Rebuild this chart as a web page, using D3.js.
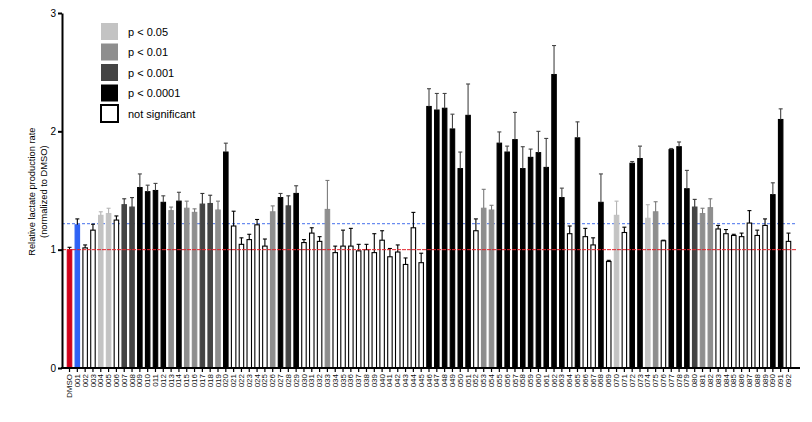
<!DOCTYPE html>
<html>
<head>
<meta charset="utf-8">
<style>
  body { margin: 0; background: #fff; }
  svg { font-family: Arial, "Liberation Sans", sans-serif; }
</style>
</head>
<body>
<svg id="chart"></svg>
<script src="https://d3js.org/d3.v7.min.js"></script>
<script>

  // bar labels: DMSO then numbered compounds
  var labels = ["DMSO"];
  for (var i = 1; i <= 92; i++) labels.push("0" + (i < 10 ? "0" + i : i));

  var values = [1.00, 1.21, 1.015, 1.165, 1.29, 1.305, 1.25, 1.38, 1.36, 1.525,
    1.49, 1.50, 1.40, 1.33, 1.41, 1.35, 1.315, 1.385, 1.39, 1.335,
    1.825, 1.20, 1.045, 1.085, 1.21, 1.03, 1.32, 1.44, 1.37, 1.475,
    1.06, 1.14, 1.07, 1.34, 0.975, 1.03, 1.03, 0.99, 1.00, 0.975,
    1.08, 0.94, 0.98, 0.875, 1.185, 0.89, 2.21, 2.18, 2.195, 2.02,
    1.685, 2.135, 1.16, 1.35, 1.335, 1.90, 1.825, 1.93, 1.685, 1.78,
    1.82, 1.695, 2.48, 1.44, 1.135, 1.945, 1.11, 1.04, 1.40, 0.90,
    1.29, 1.145, 1.73, 1.77, 1.265, 1.32, 1.075, 1.845, 1.87, 1.515,
    1.36, 1.305, 1.355, 1.175, 1.135, 1.12, 1.11, 1.225, 1.12, 1.205,
    1.465, 2.10, 1.07];

  var errors = [0.02, 0.05, 0.025, 0.05, 0.03, 0.045, 0.035, 0.05, 0.08, 0.115,
    0.055, 0.06, 0.055, 0.03, 0.075, 0.06, 0.03, 0.09, 0.07, 0.075,
    0.075, 0.125, 0.055, 0.045, 0.045, 0.06, 0.05, 0.035, 0.085, 0.065,
    0.025, 0.045, 0.04, 0.245, 0.055, 0.135, 0.15, 0.055, 0.045, 0.16,
    0.08, 0.07, 0.06, 0.055, 0.13, 0.08, 0.15, 0.14, 0.125, 0.125,
    0.14, 0.265, 0.10, 0.16, 0.04, 0.095, 0.05, 0.23, 0.185, 0.07,
    0.18, 0.245, 0.245, 0.08, 0.065, 0.135, 0.07, 0.06, 0.24, 0.01,
    0.12, 0.045, 0.015, 0.105, 0.115, 0.085, 0.005, 0.01, 0.04, 0.155,
    0.065, 0.045, 0.075, 0.03, 0.035, 0.01, 0.03, 0.105, 0.045, 0.055,
    0.10, 0.09, 0.07];

  // significance group per bar: c = control DMSO, b = blue control,
  // ns, p05, p01, p001, p0001
  var groups = ["c", "b", "ns", "ns", "p05", "p05", "ns", "p001", "p001", "p0001",
    "p0001", "p0001", "p0001", "p01", "p0001", "p01", "p01", "p001", "p001", "p01",
    "p0001", "ns", "ns", "ns", "ns", "ns", "p01", "p0001", "p001", "p0001",
    "ns", "ns", "ns", "p01", "ns", "ns", "ns", "ns", "ns", "ns",
    "ns", "ns", "ns", "ns", "ns", "ns", "p0001", "p0001", "p0001", "p0001",
    "p0001", "p0001", "ns", "p01", "p01", "p0001", "p0001", "p0001", "p0001", "p0001",
    "p0001", "p0001", "p0001", "p0001", "ns", "p0001", "ns", "ns", "p0001", "ns",
    "p05", "ns", "p0001", "p0001", "p05", "p01", "ns", "p0001", "p0001", "p0001",
    "p001", "p01", "p01", "ns", "ns", "ns", "ns", "ns", "ns", "ns",
    "p0001", "p0001", "ns"];

  var legendKeys = ["p05", "p01", "p001", "p0001", "ns"];
  var legendLabels = ["p < 0.05", "p < 0.01", "p < 0.001", "p < 0.0001", "not significant"];

  var yTicks = [0, 1, 2, 3];
  var dmsoLevel = 1;
  var blueLevel = 1.22;

  var fillColor = {c: "#d0021b", b: "#2f62f5", ns: "#ffffff", p05: "#c3c3c3",
    p01: "#8e8e8e", p001: "#444444", p0001: "#000000"};
  var strokeColor = {c: "#d0021b", b: "#2f62f5", ns: "#000000", p05: "#c3c3c3",
    p01: "#8e8e8e", p001: "#444444", p0001: "#000000"};
  var errColor = {c: "#000", b: "#000", ns: "#000", p05: "#b5b5b5",
    p01: "#7a7a7a", p001: "#333", p0001: "#444"};

  var W = 812, H = 422;
  var svg = d3.select("#chart").attr("width", W).attr("height", H);

  var axisX = 62, axisEnd = 800;

  var x = d3.scaleBand()
    .domain(d3.range(values.length))
    .range([66, 792])
    .paddingInner(0.3)
    .paddingOuter(0.1);

  var y = d3.scaleLinear()
    .domain([0, 3])
    .range([368, 13]);

  // reference lines
  svg.append("line")
    .attr("x1", axisX).attr("x2", 797)
    .attr("y1", y(blueLevel)).attr("y2", y(blueLevel))
    .attr("stroke", "#6a8cf0").attr("stroke-width", 1.3)
    .attr("stroke-dasharray", "3,2");

  // bars
  var bw = x.bandwidth();
  svg.selectAll("rect.bar")
    .data(values)
    .enter().append("rect")
    .attr("class", "bar")
    .attr("x", function(d, i) { return x(i) + 0.5; })
    .attr("width", bw - 1)
    .attr("y", function(d) { return y(d); })
    .attr("height", function(d) { return y(0) - y(d); })
    .attr("fill", function(d, i) { return fillColor[groups[i]]; })
    .attr("stroke", function(d, i) { return strokeColor[groups[i]]; })
    .attr("stroke-width", 1.1);

  // error bars
  var err = svg.selectAll("g.err")
    .data(values)
    .enter().append("g")
    .attr("class", "err")
    .attr("stroke", function(d, i) { return errColor[groups[i]]; })
    .attr("stroke-width", 1.1);

  err.append("line")
    .attr("x1", function(d, i) { return x(i) + bw / 2; })
    .attr("x2", function(d, i) { return x(i) + bw / 2; })
    .attr("y1", function(d) { return y(d); })
    .attr("y2", function(d, i) { return y(d + errors[i]); });

  err.append("line")
    .attr("x1", function(d, i) { return x(i) + bw / 2 - 2; })
    .attr("x2", function(d, i) { return x(i) + bw / 2 + 2; })
    .attr("y1", function(d, i) { return y(d + errors[i]); })
    .attr("y2", function(d, i) { return y(d + errors[i]); });

  svg.append("line")
    .attr("x1", axisX).attr("x2", 797)
    .attr("y1", y(dmsoLevel)).attr("y2", y(dmsoLevel))
    .attr("stroke", "#e3242b").attr("stroke-width", 1)
    .attr("stroke-dasharray", "4,1");

  // y axis
  var yAxis = d3.axisLeft(y).tickValues(yTicks).tickFormat(d3.format("d"))
    .tickSize(4).tickSizeOuter(0);
  var gy = svg.append("g")
    .attr("transform", "translate(" + axisX + ",0)")
    .call(yAxis);
  gy.select(".domain").attr("stroke-width", 2);
  gy.selectAll(".tick line").attr("stroke-width", 2);
  gy.selectAll(".tick text").attr("font-size", 10).attr("font-family", "Arial, 'Liberation Sans', sans-serif").attr("x", -6);

  // x axis
  var xAxis = d3.axisBottom(x).tickFormat(function(i) { return labels[i]; })
    .tickSize(4).tickSizeOuter(0);
  var gx = svg.append("g")
    .attr("transform", "translate(0,368)")
    .call(xAxis);
  gx.select(".domain").remove();
  gx.append("line").attr("x1", axisX - 1).attr("x2", axisEnd)
    .attr("stroke", "#000").attr("stroke-width", 2);
  gx.selectAll(".tick line").attr("stroke-width", 1.2);
  gx.selectAll(".tick text")
    .attr("font-size", 8)
    .attr("font-family", "Arial, 'Liberation Sans', sans-serif")
    .attr("fill", "#111")
    .attr("transform", "rotate(-90)")
    .attr("text-anchor", "end")
    .attr("x", -6)
    .attr("y", 0)
    .attr("dy", "0.32em");

  // y axis title
  var title = svg.append("text")
    .attr("transform", "translate(35," + y(1.49) + ") rotate(-90)")
    .attr("text-anchor", "middle")
    .attr("font-size", 9.3);
  title.append("tspan").attr("x", 0).attr("dy", 0).text("Relative lactate production rate");
  title.append("tspan").attr("x", 0).attr("dy", 11.5).text("(normalized to DMSO)");

  // legend
  var legend = svg.selectAll("g.leg")
    .data(legendKeys)
    .enter().append("g")
    .attr("class", "leg")
    .attr("transform", function(d, i) { return "translate(101," + (23 + i * 20.5) + ")"; });

  legend.append("rect")
    .attr("width", 17).attr("height", 17)
    .attr("fill", function(d) { return fillColor[d]; })
    .attr("stroke", function(d) { return d === "ns" ? "#000" : "none"; })
    .attr("stroke-width", 2);

  legend.append("text")
    .attr("x", 27).attr("y", 9).attr("dy", "0.35em")
    .attr("font-size", 11)
    .text(function(d, i) { return legendLabels[i]; });

</script>
</body>
</html>
